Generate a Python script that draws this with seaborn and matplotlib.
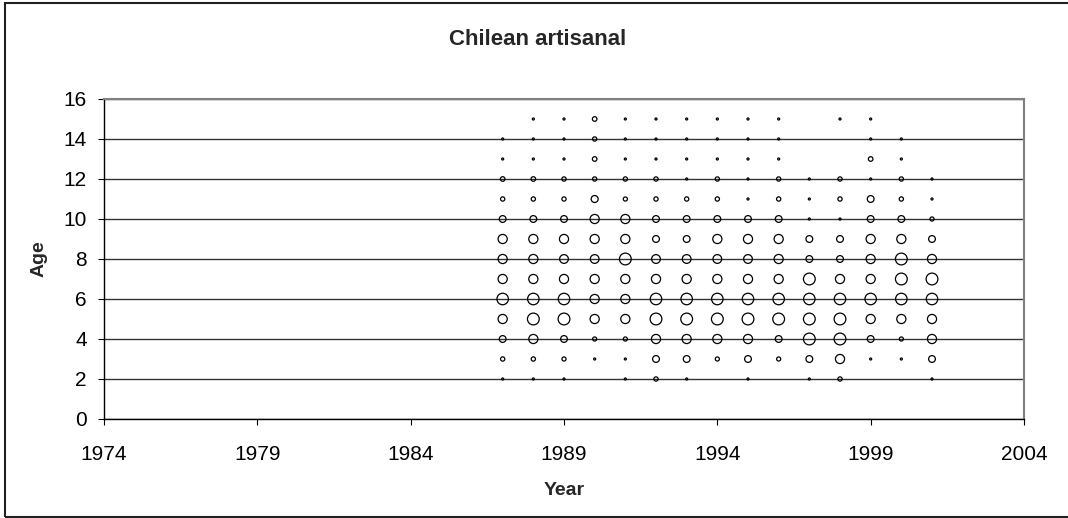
import numpy as np
import pandas as pd
import matplotlib
matplotlib.use("Agg")
import matplotlib.pyplot as plt
import seaborn as sns
from matplotlib.patches import Rectangle

# Catch-at-age bubble chart, Chilean artisanal fleet
years = list(range(1987, 2002))
ages = [15, 14, 13, 12, 11, 10, 9, 8, 7, 6, 5, 4, 3, 2]
n = np.nan

# relative bubble values, one row per age (15 down to 2), columns 1987..2001
age15 = [n, .03, .03, .15, .03, .03, .03, .03, .03, .03, n, .03, .03, n, n]
age14 = [.03, .03, .03, .13, .03, .03, .03, .03, .03, .03, n, n, .03, .03, n]
age13 = [.03, .03, .03, .15, .03, .03, .03, .03, .03, .03, n, n, .15, .03, n]
age12 = [.15, .15, .13, .13, .13, .13, .03, .13, .03, .13, .03, .13, .03, .13, .03]
age11 = [.13, .13, .13, .35, .12, .13, .13, .13, .03, .13, .03, .13, .33, .13, .03]
age10 = [.33, .33, .33, .6, .6, .33, .33, .33, .33, .33, .03, .03, .33, .33, .12]
age9 = [.6, .6, .6, .6, .6, .33, .33, .6, .6, .6, .33, .33, .6, .6, .33]
age8 = [.6, .6, .55, .55, 1.0, .55, .55, .55, .55, .6, .33, .33, .6, 1.0, .6]
age7 = [.6, .6, .6, .6, .6, .6, .6, .6, .6, .6, 1.0, .6, .6, 1.0, 1.0]
age6 = [.95, .95, .95, .6, .6, .95, .95, .95, .95, .95, .95, .95, .95, .95, .95]
age5 = [.6, 1.0, 1.0, .6, .6, 1.0, 1.0, 1.0, 1.0, 1.0, 1.0, 1.0, .6, .6, .6]
age4 = [.33, .6, .33, .12, .12, .6, .6, .6, .6, .33, 1.0, 1.0, .33, .12, .6]
age3 = [.13, .13, .12, .03, .03, .33, .33, .12, .33, .12, .33, .6, .03, .03, .33]
age2 = [.03, .03, .03, n, .03, .13, .03, n, .03, n, .03, .13, n, n, .03]

grid = [age15, age14, age13, age12, age11, age10, age9,
        age8, age7, age6, age5, age4, age3, age2]

rows = []
for a, vals in zip(ages, grid):
    for y, v in zip(years, vals):
        if not np.isnan(v):
            rows.append({"Year": y, "Age": a, "value": v})
df = pd.DataFrame(rows)

sns.set_theme(style="white")
plt.rcParams["font.family"] = ["Liberation Sans", "DejaVu Sans"]

W, H = 1068, 518
fig = plt.figure(figsize=(W / 100, H / 100), dpi=100)
ax = fig.add_axes([104 / W, 1 - 419 / H, 920 / W, 320 / H])

ax.set_axisbelow(True)
ax.yaxis.grid(True, color="#333333", linewidth=1.0)
ax.xaxis.grid(False)

sns.scatterplot(data=df, x="Year", y="Age", size="value",
                sizes=(0, 72), size_norm=(0, 1), legend=False,
                marker="o", ax=ax, zorder=3)
pts = ax.collections[0]
pts.set_facecolor("none")
pts.set_edgecolor("black")
pts.set_linewidth(0.9)

ax.set_xlim(1974, 2004)
ax.set_ylim(0, 16)
ax.set_xticks(np.arange(1974, 2005, 5))
ax.set_yticks(np.arange(0, 17, 2))
ax.tick_params(axis="both", direction="out", length=4.5, width=0.8,
               color="black", labelsize=15, labelcolor="black")
ax.tick_params(axis="x", pad=14, bottom=True)
ax.tick_params(axis="y", pad=8, left=True)

for s in ["left", "bottom"]:
    ax.spines[s].set_color("black")
    ax.spines[s].set_linewidth(1.0)
for s in ["top", "right"]:
    ax.spines[s].set_color("#808080")
    ax.spines[s].set_linewidth(1.5)

ax.set_xlabel("Year", fontsize=14, fontweight="bold")
ax.xaxis.label.set_va("baseline")
ax.xaxis.set_label_coords(0.5, -0.2375)
ax.set_ylabel("Age", fontsize=14, fontweight="bold")
ax.yaxis.label.set_va("center")
ax.yaxis.set_label_coords(-0.0707, 0.5)

fig.text(538 / W, 1 - 45 / H, "Chilean artisanal", ha="center", va="baseline",
         fontsize=16, fontweight="bold")

# outer chart border
fig.add_artist(Rectangle((5 / W, 1.5 / H), 1.2, 1 - 4.5 / H, transform=fig.transFigure,
                         fill=False, edgecolor="#202020", linewidth=1.5, clip_on=False))

fig.savefig("out.png", dpi=100)
